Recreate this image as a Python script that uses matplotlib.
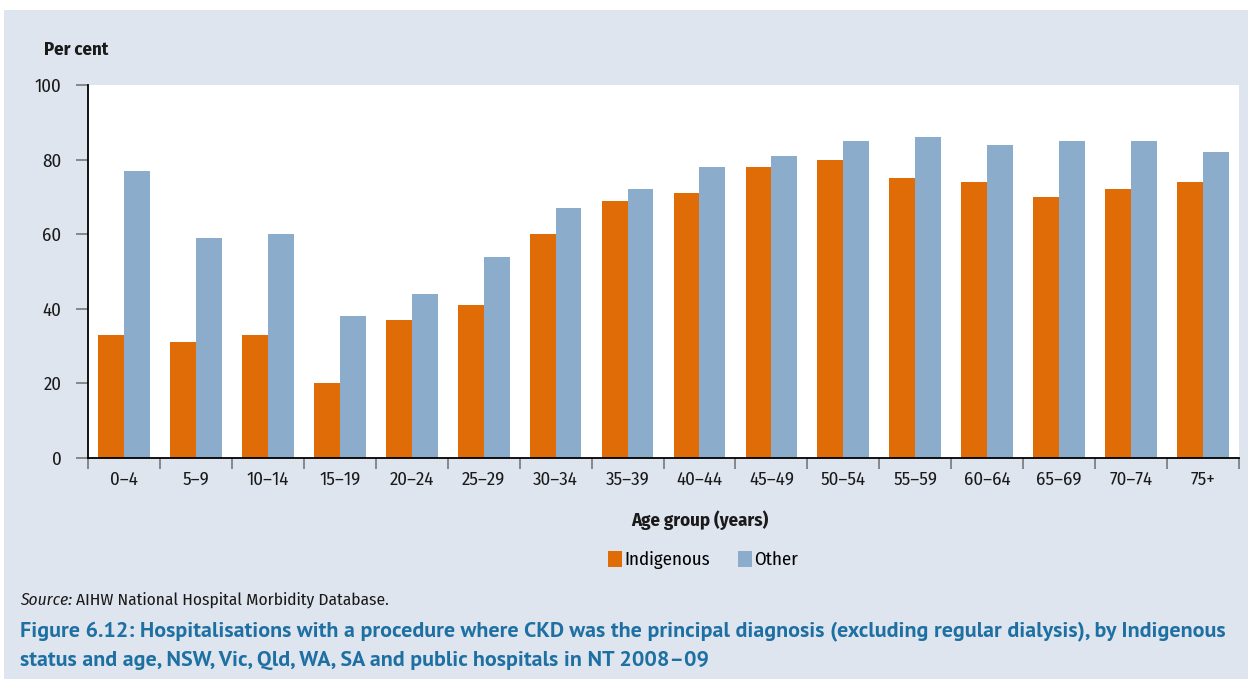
import numpy as np
import matplotlib.pyplot as plt
from matplotlib.patches import Rectangle, Patch

# age groups and per cent of hospitalisations
age_groups = ['0–4', '5–9', '10–14', '15–19', '20–24', '25–29', '30–34', '35–39',
              '40–44', '45–49', '50–54', '55–59', '60–64', '65–69', '70–74', '75+']
indigenous = [33, 31, 33, 20, 37, 41, 60, 69, 71, 78, 80, 75, 74, 70, 72, 74]
other = [77, 59, 60, 38, 44, 54, 67, 72, 78, 81, 85, 86, 84, 85, 85, 82]
y_ticks = [0, 20, 40, 60, 80, 100]

ORANGE = '#e06c07'
BLUE = '#8badcb'
PANEL = '#dfe5ef'
TITLE_BLUE = '#1e70a3'
TXT = '#1a1a1a'

COND = ['Fira Sans Condensed', 'PT Sans Narrow', 'DejaVu Sans']
WIDE = ['PT Sans', 'DejaVu Sans']
plt.rcParams['font.family'] = COND

W, H = 1248, 679
fig = plt.figure(figsize=(W / 100, H / 100), dpi=100)
fig.patch.set_facecolor('white')

# shaded panel behind everything
fig.patches.append(Rectangle((4 / W, 0), 1 - 4 / W, 1 - 10 / H,
                             transform=fig.transFigure, facecolor=PANEL,
                             edgecolor='none', zorder=-10))

left, right, top, bottom = 88, 1239, 85, 458
ax = fig.add_axes([left / W, 1 - bottom / H, (right - left) / W, (bottom - top) / H])
ax.set_facecolor('white')

x = np.arange(len(age_groups))
bw = 0.36
ax.bar(x - bw / 2, indigenous, width=bw, color=ORANGE, label='Indigenous')
ax.bar(x + bw / 2, other, width=bw, color=BLUE, label='Other')

ax.set_xlim(-0.5, len(age_groups) - 0.5)
ax.set_ylim(0, 100)
ax.set_yticks(y_ticks)
ax.tick_params(axis='y', length=9, width=1.2, color='#777777', labelsize=13.5,
               labelcolor=TXT, pad=10, direction='out')

# boundary ticks between groups, labels at group centres
ax.set_xticks(np.arange(-0.5, len(age_groups), 1.0))
ax.set_xticklabels([])
ax.set_xticks(x, minor=True)
ax.set_xticklabels(age_groups, minor=True)
ax.tick_params(axis='x', which='major', length=8, width=1.2, color='#777777')
ax.tick_params(axis='x', which='minor', length=0, labelsize=13.5, labelcolor=TXT, pad=9)

for s in ['top', 'right']:
    ax.spines[s].set_visible(False)
for s in ['left', 'bottom']:
    ax.spines[s].set_linewidth(1.3)
    ax.spines[s].set_color('black')

fig.text(44 / W, 1 - 50 / H, 'Per cent', fontsize=13.5, fontweight='bold',
         color=TXT, ha='left', va='center')
fig.text(700 / W, 1 - 520 / H, 'Age group (years)', fontsize=13.5,
         fontweight='bold', color=TXT, ha='center', va='center')

handles = [Patch(facecolor=ORANGE), Patch(facecolor=BLUE)]
fig.legend(handles, ['Indigenous', 'Other'], loc='center',
           bbox_to_anchor=(703 / W, 1 - 560 / H), ncol=2, frameon=False,
           fontsize=13.5, handlelength=0.75, handleheight=1.0, handletextpad=0.1,
           columnspacing=1.5)

src = fig.text(20 / W, 1 - 600 / H, 'Source:', fontsize=12.5, style='italic',
               color=TXT, ha='left', va='center')
fig.canvas.draw()
bb = src.get_window_extent()
fig.text((bb.x1 + 4) / W, 1 - 600 / H, 'AIHW National Hospital Morbidity Database.',
         fontsize=12.5, color=TXT, ha='left', va='center')

fig.text(20 / W, 1 - 632 / H,
         'Figure 6.12: Hospitalisations with a procedure where CKD was the principal '
         'diagnosis (excluding regular dialysis), by Indigenous',
         fontsize=15.8, fontweight='bold', family=WIDE, color=TITLE_BLUE,
         ha='left', va='center')
fig.text(20 / W, 1 - 660 / H,
         'status and age, NSW, Vic, Qld, WA, SA and public hospitals in NT 2008–09',
         fontsize=15.8, fontweight='bold', family=WIDE, color=TITLE_BLUE,
         ha='left', va='center')

fig.savefig('out.png', dpi=100, facecolor=fig.get_facecolor())
